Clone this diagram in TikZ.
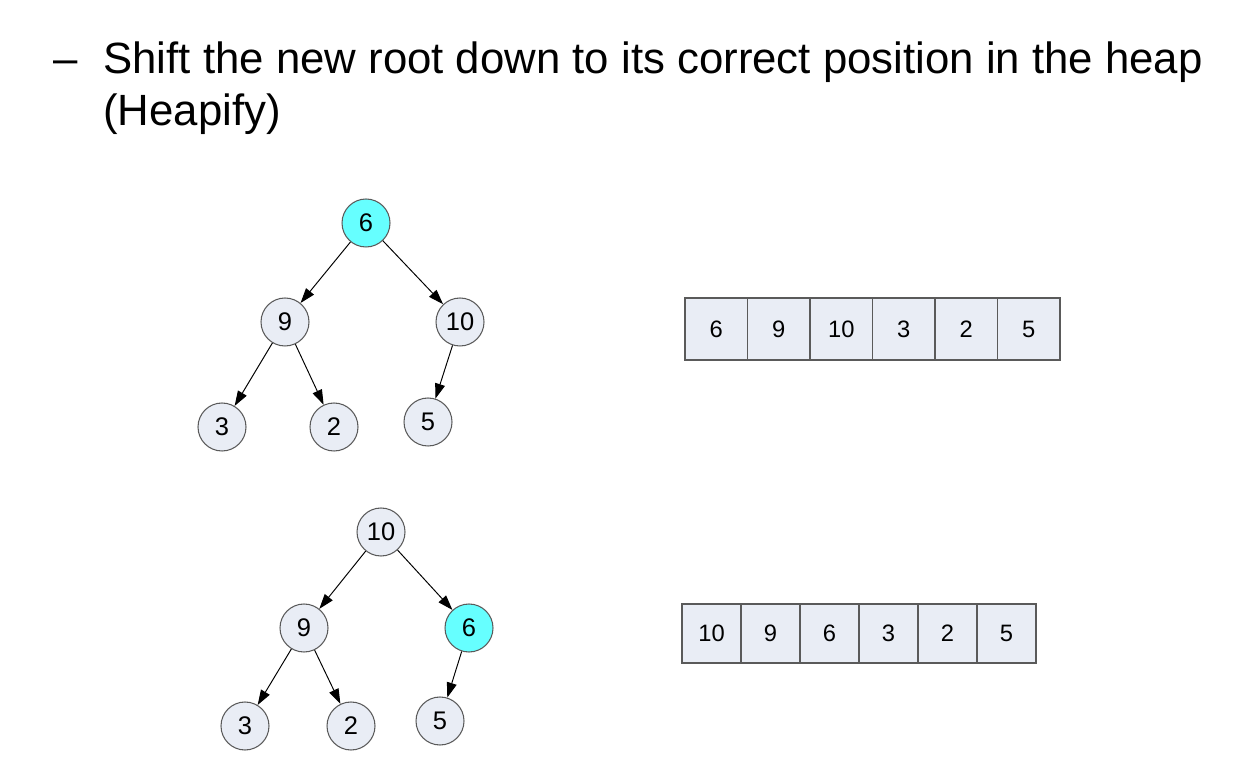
\documentclass[tikz,border=0pt]{standalone}
\usepackage{fontspec}
\setmainfont{Liberation Sans}
\usepackage{xcolor}
\usepackage{tikz}
\usetikzlibrary{arrows.meta}
\definecolor{HPFill}{HTML}{E9EDF5}
\definecolor{HPCyan}{HTML}{66FFFF}
\definecolor{HPEdge}{HTML}{5A5A5A}

\begin{document}
\begin{tikzpicture}[x=1cm,y=1cm,
  heapnode/.style={circle,draw=HPEdge,line width=0.6pt,fill=HPFill,minimum size=0.96cm,inner sep=0pt,font=\fontsize{14.5pt}{16pt}\selectfont},
  hotnode/.style={heapnode,fill=HPCyan},
  cell/.style={rectangle,draw=HPEdge,line width=0.6pt,fill=HPFill,inner sep=0pt,font=\fontsize{13.5pt}{15pt}\selectfont},
  link/.style={-{Triangle[length=0.3cm,width=0.2cm]},line width=0.55pt,black},
  headline/.style={anchor=base west,inner sep=0pt,font=\fontsize{24.9pt}{29.6pt}\selectfont}]
\path[use as bounding box] (0,0) rectangle (25.12,15.36);
\node[headline] (dash) at (1.06,13.88) {–};
\node[headline] (title1) at (2.06,13.88) {Shift the new root down to its correct position in the heap};
\node[headline] (title2) at (2.06,12.84) {(Heapify)};
% before heapify
\node[hotnode] (a6) at (7.32,10.90) {6};
\node[heapnode] (a9) at (5.70,8.92) {9};
\node[heapnode] (a10) at (9.20,8.92) {10};
\node[heapnode] (a3) at (4.44,6.82) {3};
\node[heapnode] (a2) at (6.68,6.82) {2};
\node[heapnode] (a5) at (8.56,6.92) {5};
\draw[link] (a6) -- (a9);
\draw[link] (a6) -- (a10);
\draw[link] (a9) -- (a3);
\draw[link] (a9) -- (a2);
\draw[link] (a10) -- (a5);
\node[cell,minimum width=1.25cm,minimum height=1.24cm] (c1) at (14.325,8.78) {6};
\node[cell,minimum width=1.25cm,minimum height=1.24cm] (c2) at (15.575,8.78) {9};
\node[cell,minimum width=1.25cm,minimum height=1.24cm] (c3) at (16.825,8.78) {10};
\node[cell,minimum width=1.25cm,minimum height=1.24cm] (c4) at (18.075,8.78) {3};
\node[cell,minimum width=1.25cm,minimum height=1.24cm] (c5) at (19.325,8.78) {2};
\node[cell,minimum width=1.25cm,minimum height=1.24cm] (c6) at (20.575,8.78) {5};
% after one swap
\node[heapnode] (b10) at (7.62,4.72) {10};
\node[heapnode] (b9) at (6.08,2.80) {9};
\node[hotnode] (b6) at (9.38,2.80) {6};
\node[heapnode] (b3) at (4.90,0.84) {3};
\node[heapnode] (b2) at (7.02,0.84) {2};
\node[heapnode] (b5) at (8.80,0.94) {5};
\draw[link] (b10) -- (b9);
\draw[link] (b10) -- (b6);
\draw[link] (b9) -- (b3);
\draw[link] (b9) -- (b2);
\draw[link] (b6) -- (b5);
\node[cell,minimum width=1.18cm,minimum height=1.18cm] (d1) at (14.23,2.69) {10};
\node[cell,minimum width=1.18cm,minimum height=1.18cm] (d2) at (15.41,2.69) {9};
\node[cell,minimum width=1.18cm,minimum height=1.18cm] (d3) at (16.59,2.69) {6};
\node[cell,minimum width=1.18cm,minimum height=1.18cm] (d4) at (17.77,2.69) {3};
\node[cell,minimum width=1.18cm,minimum height=1.18cm] (d5) at (18.95,2.69) {2};
\node[cell,minimum width=1.18cm,minimum height=1.18cm] (d6) at (20.13,2.69) {5};
\end{tikzpicture}
\end{document}
